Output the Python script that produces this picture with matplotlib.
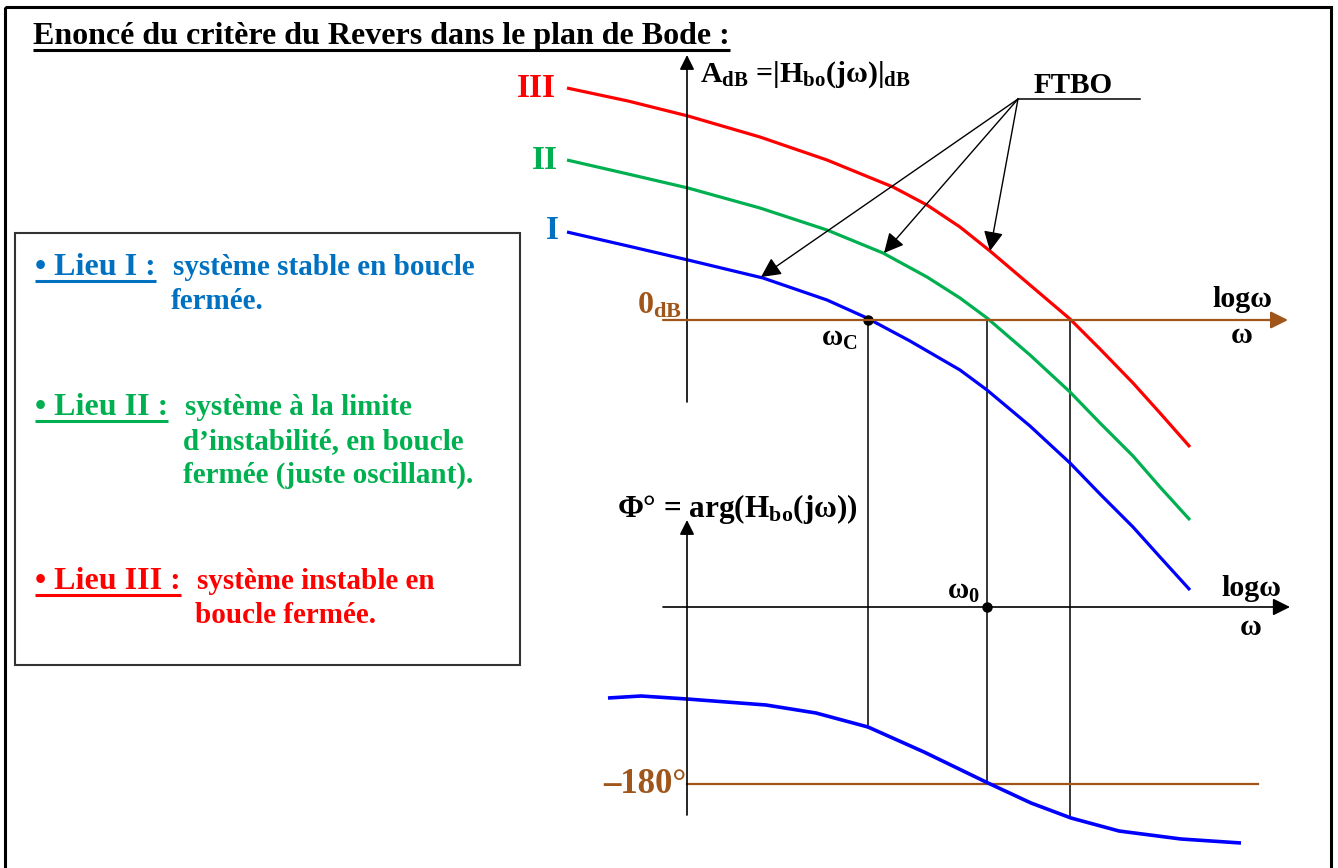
import matplotlib
matplotlib.use("Agg")
import matplotlib.pyplot as plt
from matplotlib.patches import Rectangle

plt.rcParams['font.family'] = ['Liberation Serif', 'DejaVu Serif']
plt.rcParams['font.weight'] = 'bold'
plt.rcParams['mathtext.default'] = 'regular'

RED = '#FF0000'
GREEN = '#00B050'
BLUE = '#0000FF'
LBLUE = '#0070C0'
BROWN = '#A0561A'

# gain curves (log w, A_dB) in drawing units
lieu3_x = [567, 628, 688, 760, 827, 893, 927, 960, 990, 1030, 1070, 1100, 1133, 1160, 1190]
lieu3_y = [88, 101, 116, 137, 160, 187, 205, 227, 251, 285, 319, 349, 383, 413, 447]
lieu2_x = [567, 628, 688, 760, 827, 883, 927, 960, 987, 1030, 1070, 1100, 1133, 1160, 1190]
lieu2_y = [160, 174, 188, 208, 230, 253, 277, 298, 318, 355, 392, 423, 456, 487, 520]
lieu1_x = [567, 628, 688, 763, 827, 867, 910, 960, 987, 1030, 1070, 1100, 1133, 1160, 1190]
lieu1_y = [232, 246, 260, 278, 300, 318, 341, 370, 390, 426, 463, 494, 527, 557, 590]

# phase curve
phase_x = [608, 641, 687, 766, 816, 868, 924, 988, 1031, 1071, 1119, 1181, 1241]
phase_y = [698, 696, 699, 705, 713, 727, 752, 783, 803, 818, 831, 839, 843]

# pulsations of interest (w_C, w_0, crossing of III)
w_marks = [868, 987, 1070]
w_ends = [728, 784, 817]

zero_db = 320
phase_zero = 607
minus180 = 784

lieux = [
    ('• Lieu I :', ['système stable en boucle', 'fermée.'], LBLUE, 275, 173),
    ('• Lieu II :', ['système à la limite', 'd’instabilité, en boucle',
                     'fermée (juste oscillant).'], GREEN, 415, 185),
    ('• Lieu III :', ['système instable en', 'boucle fermée.'], RED, 589, 197),
]

fig = plt.figure(figsize=(13.38, 8.68), dpi=100)
ax = fig.add_axes([0, 0, 1, 1])
ax.set_xlim(0, 1338)
ax.set_ylim(868, 0)
ax.axis('off')

# frame
ax.add_patch(Rectangle((5, 7), 1326, 880, fill=False, ec='black', lw=2.2))

# title
title = ax.text(33, 44, 'Enoncé du critère du Revers dans le plan de Bode :',
                fontsize=23, va='baseline')

# legend box
ax.add_patch(Rectangle((15, 233), 505, 432, fill=False, ec='#333333', lw=1.5))
underlined = [(title, 'black', 6)]
for head, lines, col, yb, xt in lieux:
    t = ax.text(35, yb, head, color=col, fontsize=23, va='baseline')
    underlined.append((t, col, 6))
    for i, l in enumerate(lines):
        ax.text(xt if i == 0 else xt - 2, yb + i * 34, l, color=col,
                fontsize=21, va='baseline')

arrow = dict(arrowstyle='-|>', color='black', lw=1.2,
             mutation_scale=22, shrinkA=0, shrinkB=0)

# gain diagram
ax.annotate('', xy=(687, 55), xytext=(687, 402), arrowprops=arrow)
ax.text(700, 82, r'A$_{dB}$ =|H$_{bo}$(jω)|$_{dB}$', fontsize=21.5, va='baseline')
ax.annotate('', xy=(1288, zero_db), xytext=(663, zero_db),
            arrowprops=dict(arrow, color=BROWN, lw=1.6, mutation_scale=26))
ax.text(637, 313, r'0$_{dB}$', color=BROWN, fontsize=23, va='baseline')
ax.text(1212, 307, 'logω', fontsize=21.5, va='baseline')
ax.text(1231, 343, 'ω', fontsize=21.5, va='baseline')

for xm, ye in zip(w_marks, w_ends):
    ax.plot([xm, xm], [zero_db, ye], color='black', lw=1.1)

ax.plot(lieu3_x, lieu3_y, color=RED, lw=2.3, solid_capstyle='butt', solid_joinstyle='round')
ax.plot(lieu2_x, lieu2_y, color=GREEN, lw=2.3, solid_capstyle='butt', solid_joinstyle='round')
ax.plot(lieu1_x, lieu1_y, color=BLUE, lw=2.3, solid_capstyle='butt', solid_joinstyle='round')
ax.text(556, 97, 'III', color=RED, fontsize=24, ha='right', va='baseline')
ax.text(558, 169, 'II', color=GREEN, fontsize=24, ha='right', va='baseline')
ax.text(559, 239, 'I', color=LBLUE, fontsize=24, ha='right', va='baseline')

ax.plot([w_marks[0]], [zero_db], 'o', color='black', ms=6.5)
ax.text(821, 346, r'ω$_{C}$', fontsize=21, va='baseline')

# FTBO callout
ax.text(1034, 93, 'FTBO', fontsize=21, va='baseline')
ax.plot([1018, 1140], [99, 99], color='black', lw=1.1)
for tip in [(761, 277), (884, 253), (990, 251)]:
    ax.annotate('', xy=tip, xytext=(1018, 99),
                arrowprops=dict(arrow, lw=1.0, mutation_scale=30))

# phase diagram
ax.annotate('', xy=(687, 520), xytext=(687, 815), arrowprops=arrow)
ax.text(617, 517, r'Φ° = arg(H$_{bo}$(jω))', fontsize=22.5, va='baseline')
ax.annotate('', xy=(1290, phase_zero), xytext=(663, phase_zero),
            arrowprops=dict(arrow, mutation_scale=26))
ax.text(1221, 596, 'logω', fontsize=21.5, va='baseline')
ax.text(1240, 635, 'ω', fontsize=21.5, va='baseline')
ax.plot([w_marks[1]], [phase_zero], 'o', color='black', ms=6.5)
ax.text(947, 599, r'ω$_{0}$', fontsize=21, va='baseline')

ax.plot([687, 1258], [minus180, minus180], color=BROWN, lw=1.6)
ax.text(603, 793, '–180°', color=BROWN, fontsize=25, va='baseline')
ax.plot(phase_x, phase_y, color=BLUE, lw=2.6, solid_capstyle='butt', solid_joinstyle='round')

# underlines
fig.canvas.draw()
r = fig.canvas.get_renderer()
inv = ax.transData.inverted()
for t, col, off in underlined:
    bb = t.get_window_extent(r)
    (x0, _), (x1, _) = inv.transform([[bb.x0, 0], [bb.x1, 0]])
    yb = t.get_position()[1] + off
    ax.plot([x0, x1], [yb, yb], color=col, lw=2.2, solid_capstyle='butt')

fig.savefig('out.png', dpi=100)
